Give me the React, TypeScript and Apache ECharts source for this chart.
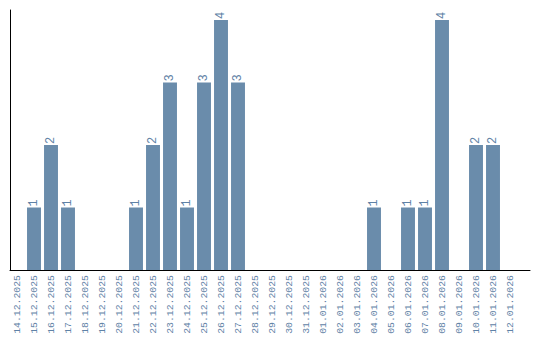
import React, { useEffect, useRef } from "react";
import * as echarts from "echarts";

const categories = [
  "14.12.2025", "15.12.2025", "16.12.2025", "17.12.2025", "18.12.2025",
  "19.12.2025", "20.12.2025", "21.12.2025", "22.12.2025", "23.12.2025",
  "24.12.2025", "25.12.2025", "26.12.2025", "27.12.2025", "28.12.2025",
  "29.12.2025", "30.12.2025", "31.12.2025", "01.01.2026", "02.01.2026",
  "03.01.2026", "04.01.2026", "05.01.2026", "06.01.2026", "07.01.2026",
  "08.01.2026", "09.01.2026", "10.01.2026", "11.01.2026", "12.01.2026",
];
const counts = [
  0, 1, 2, 1, 0,
  0, 0, 1, 2, 3,
  1, 3, 4, 3, 0,
  0, 0, 0, 0, 0,
  0, 1, 0, 1, 1,
  4, 0, 2, 2, 0,
];

const BAR = "#6a8cab";
const TXT = "#5f82a6";

export default function App() {
  const ref = useRef<HTMLDivElement>(null);
  useEffect(() => {
    if (!ref.current) return;
    const chart = echarts.init(ref.current, undefined, { renderer: "svg" });
    chart.setOption({
      animation: false,
      grid: [
        { left: 8.5, width: 510, top: 20, bottom: 70 },
        { left: 10, right: 10, top: 10, bottom: 70 },
      ],
      xAxis: [
        {
          type: "category",
          gridIndex: 0,
          data: categories,
          axisLine: { show: false },
          axisTick: { show: false },
          axisLabel: {
            interval: 0,
            rotate: 90,
            margin: 5,
            color: TXT,
            fontFamily: "Liberation Mono",
            fontSize: 9.8,
          },
        },
        {
          type: "value",
          gridIndex: 1,
          min: 0,
          max: 1,
          axisLine: { show: true, lineStyle: { color: "#000", width: 1 } },
          axisTick: { show: false },
          axisLabel: { show: false },
          splitLine: { show: false },
        },
      ],
      yAxis: [
        {
          type: "value",
          gridIndex: 0,
          min: 0,
          max: 4,
          axisLine: { show: false },
          axisTick: { show: false },
          axisLabel: { show: false },
          splitLine: { show: false },
        },
        {
          type: "value",
          gridIndex: 1,
          min: 0,
          max: 1,
          axisLine: { show: true, lineStyle: { color: "#000", width: 1 } },
          axisTick: { show: false },
          axisLabel: { show: false },
          splitLine: { show: false },
        },
      ],
      series: [
        {
          type: "bar",
          xAxisIndex: 0,
          yAxisIndex: 0,
          data: counts,
          barCategoryGap: "18%",
          itemStyle: { color: BAR },
          label: {
            show: true,
            position: "top",
            rotate: 90,
            align: "left",
            verticalAlign: "middle",
            distance: 1,
            color: TXT,
            fontFamily: "Liberation Mono",
            fontSize: 12,
            formatter: (p: any) => (p.value > 0 ? String(p.value) : ""),
          },
        },
      ],
    });
    return () => chart.dispose();
  }, []);
  return (
    <div
      ref={ref}
      style={{ position: "absolute", left: 0, top: 0, width: 540, height: 340 }}
    />
  );
}
